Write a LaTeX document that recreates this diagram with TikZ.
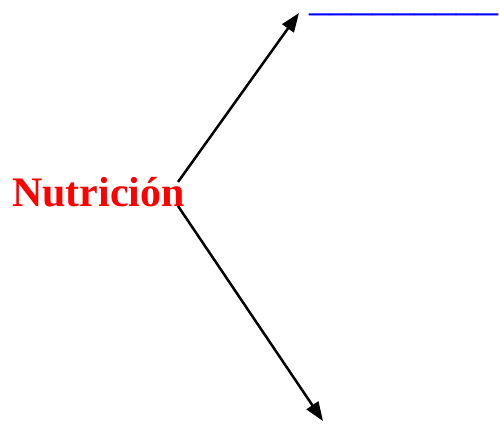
\documentclass[tikz,border=0pt]{standalone}
\usepackage{fontspec}
\setmainfont{Liberation Serif}
\usetikzlibrary{arrows.meta}
\definecolor{nred}{RGB}{255,0,0}
\definecolor{nblue}{RGB}{0,0,255}
\begin{document}
\begin{tikzpicture}[x=1pt,y=-1pt,
  conn/.style={line width=2.5pt,-{Triangle[length=19pt,width=14pt]}},
  lbl/.style={inner sep=0pt,anchor=base west}]
\useasboundingbox (0,0) rectangle (499,434);
\node[lbl,text=nred,font=\bfseries\fontsize{42}{50}\selectfont] (nut) at (12,206) {Nutrición};
\node[lbl,text=nblue,font=\fontsize{42}{50}\selectfont,text height=2pt,text depth=6pt] (blank) at (309,10) {\_\_\_\_\_\_\_\_\_};
\coordinate (s1) at (178,182);
\coordinate (e1) at (299,13);
\coordinate (s2) at (178,206);
\coordinate (e2) at (323,421);
\draw[conn] (s1) -- (e1);
\draw[conn] (s2) -- (e2);
\end{tikzpicture}
\end{document}
